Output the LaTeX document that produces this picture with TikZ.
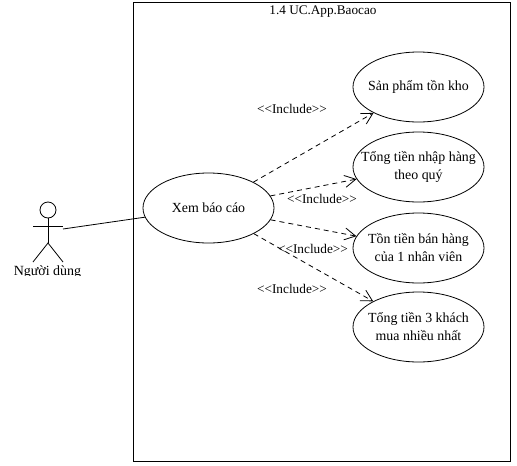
\documentclass[tikz,border=0pt]{standalone}
\usepackage{fontspec}
\setmainfont{Liberation Serif}
\usetikzlibrary{arrows.meta,shapes.geometric}
\tikzset{
    usecase/.style={draw=black, ellipse, minimum width=131pt, minimum height=70pt, inner sep=-30pt, align=center, font={\fontsize{13.9}{18}\selectfont}},
    includeline/.style={draw=black, dashed, dash pattern=on 5pt off 4pt, -{Straight Barb[length=11pt,width=12pt]}},
    includetext/.style={font={\fontsize{13.3}{14}\selectfont}, black, inner sep=0pt},
}

\begin{document}
\begin{tikzpicture}[x=1pt, y=-1pt, line width=0.8pt]
        \useasboundingbox (0,0) rectangle (517,466);
        % system box
        \node[draw=black, minimum width=377pt, minimum height=459pt, inner sep=0pt] (appBox) at (322,231.5) {};
        \node[font = {\fontsize{13.2}{15}\selectfont}, black, inner sep=0pt] (appTitle) at (323,12) {1.4 UC.App.Baocao};
        % actor
        \node[draw=black, circle, minimum size=16pt, inner sep=0pt] (actorHead) at (48,210) {};
        \coordinate (actorHip) at (48,243);
        \coordinate (armLeft) at (33,226);
        \coordinate (armRight) at (63,226);
        \coordinate (footLeft) at (33,262);
        \coordinate (footRight) at (63,262);
        \coordinate (actorHand) at (63,229);
        \draw (actorHead) -- (actorHip);
        \draw (armLeft) -- (armRight);
        \draw (footLeft) -- (actorHip) -- (footRight);
        \begin{scope}
            \clip (0,262) rectangle (120,275.5);
            \node[font = {\fontsize{14}{15}\selectfont}, black, inner sep=0pt] (actorName) at (47.5,272.5) {Người dùng};
        \end{scope}
        % use cases
        \node[usecase] (xemBaoCao) at (208.5,208) {Xem báo cáo};
        \node[usecase] (sanPham) at (418.5,87) {Sản phẩm tồn kho};
        \node[usecase] (tienNhap) at (418.5,167) {Tổng tiền nhập hàng\\theo quý};
        \node[usecase] (tienBan) at (418.5,248) {Tồn tiền bán hàng\\của 1 nhân viên};
        \node[usecase] (khachMua) at (418.5,327) {Tổng tiền 3 khách\\mua nhiều nhất};
        % connectors
        \draw (actorHand) -- (xemBaoCao);
        \draw[includeline] (xemBaoCao) -- (sanPham);
        \draw[includeline] (xemBaoCao) -- (tienNhap);
        \draw[includeline] (xemBaoCao) -- (tienBan);
        \draw[includeline] (xemBaoCao) -- (khachMua);
        \node[includetext] (labelSanPham) at (292,109) {<{}<Include>{}>};
        \node[includetext] (labelNhap) at (322,199) {<{}<Include>{}>};
        \node[includetext] (labelBan) at (313,249) {<{}<Include>{}>};
        \node[includetext] (labelKhach) at (292,289) {<{}<Include>{}>};
    \end{tikzpicture}
\end{document}
